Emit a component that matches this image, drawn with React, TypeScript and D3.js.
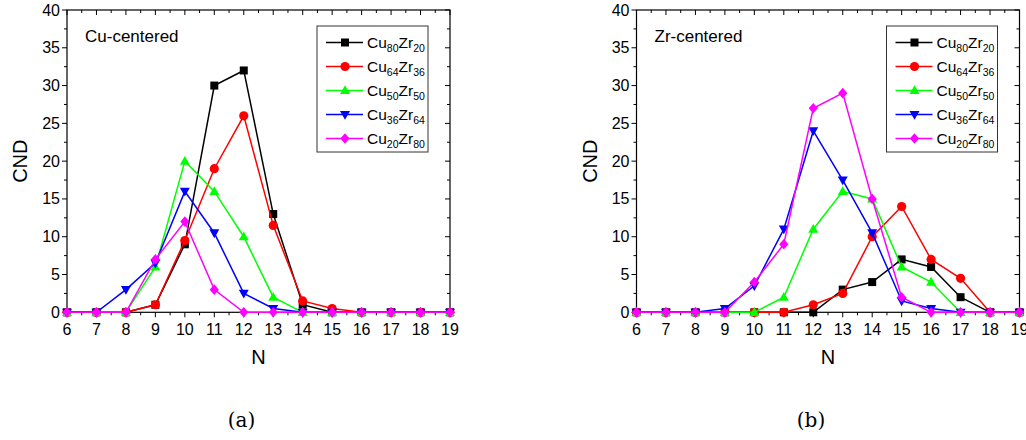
import React from "react";
import * as d3 from "d3";

const N_VALUES = [6, 7, 8, 9, 10, 11, 12, 13, 14, 15, 16, 17, 18, 19];
const X_TICKS = [6, 7, 8, 9, 10, 11, 12, 13, 14, 15, 16, 17, 18, 19];
const Y_TICKS = [0, 5, 10, 15, 20, 25, 30, 35, 40];

const SERIES_NAMES = [
  ["80", "20"],
  ["64", "36"],
  ["50", "50"],
  ["36", "64"],
  ["20", "80"],
];
const SERIES_COLORS = ["#000000", "#ff0000", "#00ff00", "#0000ff", "#ff00ff"];
const SERIES_MARKERS = ["square", "circle", "triangle", "triangleDown", "diamond"];

// Cu-centered
const CU_80 = [0, 0, 0, 1, 9, 30, 32, 13, 1, 0, 0, 0, 0, 0];
const CU_64 = [0, 0, 0, 1, 9.5, 19, 26, 11.5, 1.5, 0.5, 0, 0, 0, 0];
const CU_50 = [0, 0, 0, 6, 20, 16, 10, 2, 0, 0, 0, 0, 0, 0];
const CU_36 = [0, 0, 3, 6.5, 16, 10.5, 2.5, 0.5, 0, 0, 0, 0, 0, 0];
const CU_20 = [0, 0, 0, 7, 12, 3, 0, 0, 0, 0, 0, 0, 0, 0];

// Zr-centered
const ZR_80 = [0, 0, 0, 0, 0, 0, 0, 3, 4, 7, 6, 2, 0, 0];
const ZR_64 = [0, 0, 0, 0, 0, 0, 1, 2.5, 10, 14, 7, 4.5, 0, 0];
const ZR_50 = [0, 0, 0, 0, 0, 2, 11, 16, 15, 6, 4, 0, 0, 0];
const ZR_36 = [0, 0, 0, 0.5, 3.5, 11, 24, 17.5, 10.5, 1.5, 0.5, 0, 0, 0];
const ZR_20 = [0, 0, 0, 0, 4, 9, 27, 29, 15, 2, 0, 0, 0, 0];

const CU_SERIES = [CU_80, CU_64, CU_50, CU_36, CU_20];
const ZR_SERIES = [ZR_80, ZR_64, ZR_50, ZR_36, ZR_20];

const FONT = "Liberation Sans, Arial, sans-serif";

function Marker({ type, x, y, color }: { type: string; x: number; y: number; color: string }) {
  if (type === "square") {
    return <rect x={x - 4} y={y - 4} width={8} height={8} fill={color} />;
  }
  if (type === "circle") {
    return <circle cx={x} cy={y} r={4.6} fill={color} />;
  }
  if (type === "triangle") {
    return <path d={`M${x},${y - 5.2} L${x + 5},${y + 3.6} L${x - 5},${y + 3.6} Z`} fill={color} />;
  }
  if (type === "triangleDown") {
    return <path d={`M${x},${y + 5.2} L${x + 5},${y - 3.6} L${x - 5},${y - 3.6} Z`} fill={color} />;
  }
  return <path d={`M${x},${y - 5.3} L${x + 4.6},${y} L${x},${y + 5.3} L${x - 4.6},${y} Z`} fill={color} />;
}

function Panel({ left, series, title, caption }: { left: number; series: number[][]; title: string; caption: string }) {
  const right = left + 383;
  const top = 10;
  const bottom = 312.3;
  const x = d3.scaleLinear().domain([6, 19]).range([left, right]);
  const y = d3.scaleLinear().domain([0, 40]).range([bottom, top]);
  const line = d3
    .line<number>()
    .x((_, i) => x(N_VALUES[i]))
    .y((d) => y(d));

  const xMinor = d3.range(6.5, 19, 1);
  const yMinor = d3.range(2.5, 40, 5);

  const legX = left + 250;
  const legY = 26;
  const cx = (left + right) / 2;

  return (
    <g>
      <rect x={left} y={top} width={right - left} height={bottom - top} fill="none" stroke="#000" strokeWidth={1.2} />
      {Y_TICKS.map((t) => (
        <line key={"yl" + t} x1={left - 5} x2={left} y1={y(t)} y2={y(t)} stroke="#000" strokeWidth={1} />
      ))}
      {yMinor.map((t) => (
        <line key={"ylm" + t} x1={left - 3} x2={left} y1={y(t)} y2={y(t)} stroke="#000" strokeWidth={1} />
      ))}
      {Y_TICKS.map((t) => (
        <line key={"yr" + t} x1={right - 5} x2={right} y1={y(t)} y2={y(t)} stroke="#000" strokeWidth={1} />
      ))}
      {yMinor.map((t) => (
        <line key={"yrm" + t} x1={right - 3} x2={right} y1={y(t)} y2={y(t)} stroke="#000" strokeWidth={1} />
      ))}
      {X_TICKS.map((t) => (
        <line key={"xb" + t} x1={x(t)} x2={x(t)} y1={bottom} y2={bottom + 5} stroke="#000" strokeWidth={1} />
      ))}
      {xMinor.map((t) => (
        <line key={"xbm" + t} x1={x(t)} x2={x(t)} y1={bottom} y2={bottom + 3} stroke="#000" strokeWidth={1} />
      ))}
      {X_TICKS.map((t) => (
        <line key={"xt" + t} x1={x(t)} x2={x(t)} y1={top} y2={top + 5} stroke="#000" strokeWidth={1} />
      ))}
      {xMinor.map((t) => (
        <line key={"xtm" + t} x1={x(t)} x2={x(t)} y1={top} y2={top + 3} stroke="#000" strokeWidth={1} />
      ))}
      {Y_TICKS.map((t) => (
        <text key={"yt" + t} x={left - 7} y={y(t) + 5.5} textAnchor="end" fontFamily={FONT} fontSize={16} fill="#000">
          {t}
        </text>
      ))}
      {X_TICKS.map((t) => (
        <text key={"xtl" + t} x={x(t)} y={bottom + 23} textAnchor="middle" fontFamily={FONT} fontSize={16} fill="#000">
          {t}
        </text>
      ))}
      <text x={cx} y={364} textAnchor="middle" fontFamily={FONT} fontSize={20} fill="#000">
        N
      </text>
      <text
        transform={`translate(${left - 40},${(top + bottom) / 2}) rotate(-90)`}
        textAnchor="middle"
        fontFamily={FONT}
        fontSize={20}
        fill="#000"
      >
        CND
      </text>
      <text x={left + 18} y={41.5} fontFamily={FONT} fontSize={17} fill="#000">
        {title}
      </text>
      {series.map((s, si) => (
        <g key={"s" + si}>
          <path d={line(s) || ""} fill="none" stroke={SERIES_COLORS[si]} strokeWidth={1.5} />
          {s.map((v, i) => (
            <Marker key={i} type={SERIES_MARKERS[si]} x={x(N_VALUES[i])} y={y(v)} color={SERIES_COLORS[si]} />
          ))}
        </g>
      ))}
      <rect x={legX} y={legY} width={111} height={126} fill="#fff" stroke="#333" strokeWidth={1} />
      {SERIES_NAMES.map((nm, i) => {
        const ly = legY + 16.5 + i * 24;
        return (
          <g key={"lg" + i}>
            <line x1={legX + 9} x2={legX + 46} y1={ly} y2={ly} stroke={SERIES_COLORS[i]} strokeWidth={1.5} />
            <Marker type={SERIES_MARKERS[i]} x={legX + 28} y={ly} color={SERIES_COLORS[i]} />
            <text x={legX + 50} y={ly + 5.5} fontFamily={FONT} fontSize={15.5} fill="#000">
              Cu
              <tspan fontSize={10.5} dy={4}>{nm[0]}</tspan>
              <tspan dy={-4}>Zr</tspan>
              <tspan fontSize={10.5} dy={4}>{nm[1]}</tspan>
            </text>
          </g>
        );
      })}
      <text x={cx - 17} y={427} textAnchor="middle" fontFamily="DejaVu Serif, Liberation Serif, serif" fontSize={20} fill="#000">
        {caption}
      </text>
    </g>
  );
}

export default function App() {
  return (
    <svg
      width={1026}
      height={440}
      style={{ position: "absolute", left: 0, top: 0, background: "#fff" }}
      xmlns="http://www.w3.org/2000/svg"
    >
      <rect x={0} y={0} width={1026} height={440} fill="#fff" />
      <Panel left={67} series={CU_SERIES} title="Cu-centered" caption="(a)" />
      <Panel left={636.5} series={ZR_SERIES} title="Zr-centered" caption="(b)" />
    </svg>
  );
}
